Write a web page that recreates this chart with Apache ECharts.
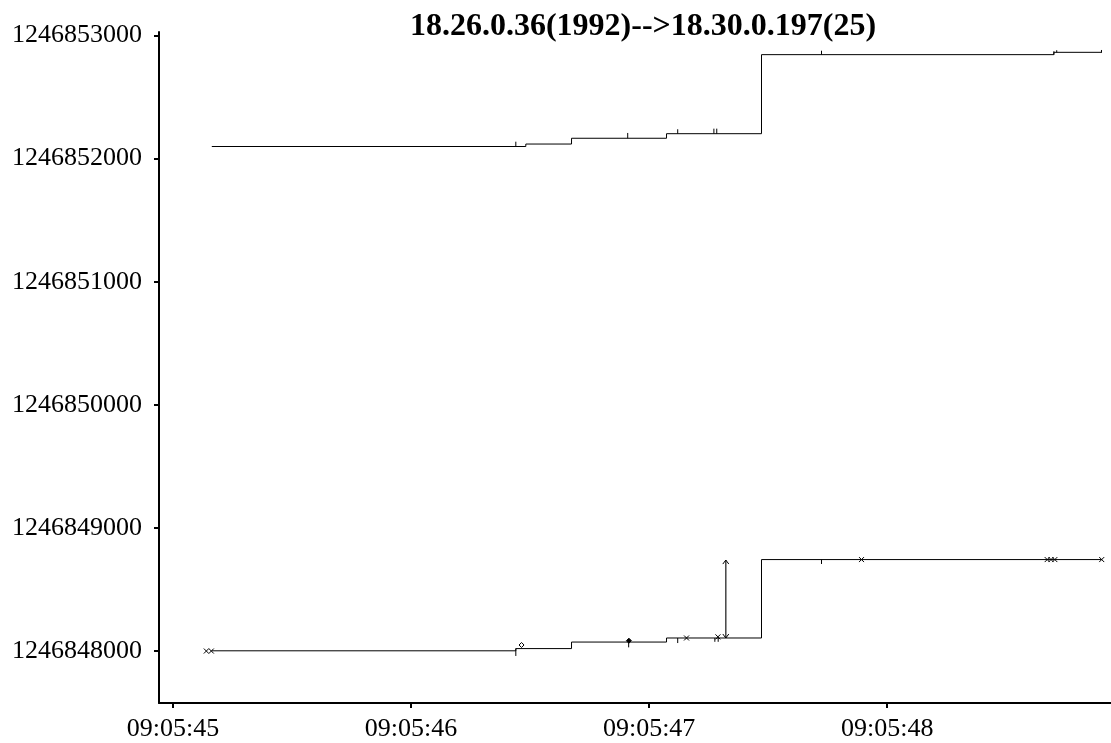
<!DOCTYPE html>
<html>
<head>
<meta charset="utf-8">
<script src="https://cdn.jsdelivr.net/npm/echarts@6/dist/echarts.min.js"></script>
<style>html,body{margin:0;padding:0;background:#fff}#c{width:1111px;height:743px}</style>
</head>
<body>
<div id="c"></div>
<script>
// time in seconds after 09:05:45
const timeTicks = [0, 1, 2, 3];
const timeLabels = ['09:05:45', '09:05:46', '09:05:47', '09:05:48'];
const seqTicks = [1246848000, 1246849000, 1246850000, 1246851000, 1246852000, 1246853000];

// ack line (step)
const ackSteps = [
  [0.163, 1246848002], [1.440, 1246848020], [1.674, 1246848073],
  [2.073, 1246848106], [2.472, 1246848743], [3.902, 1246848743]
];
// window line (step)
const winSteps = [
  [0.163, 1246852098], [1.482, 1246852118], [1.674, 1246852165],
  [2.073, 1246852202], [2.472, 1246852844], [3.700, 1246852863], [3.902, 1246852863]
];
// small vertical ticks on the window line [t, from, to]
const winTicks = [
  [1.440, 1246852098, 1246852137], [1.910, 1246852165, 1246852208],
  [2.120, 1246852202, 1246852238], [2.272, 1246852202, 1246852243],
  [2.284, 1246852202, 1246852243], [2.724, 1246852844, 1246852876],
  [3.700, 1246852844, 1246852872], [3.712, 1246852863, 1246852880],
  [3.900, 1246852863, 1246852882]
];
// small vertical ticks on the ack line [t, from, to]
const ackTicks = [
  [1.440, 1246848020, 1246847960], [1.914, 1246848073, 1246848030],
  [2.120, 1246848106, 1246848065], [2.276, 1246848106, 1246848075],
  [2.290, 1246848106, 1246848075], [2.724, 1246848743, 1246848707]
];
// cross markers [t, seq]
const crossMarks = [
  [0.140, 1246848000], [0.161, 1246848000], [2.157, 1246848106],
  [2.289, 1246848115], [2.892, 1246848743], [3.672, 1246848743],
  [3.688, 1246848743], [3.704, 1246848743], [3.901, 1246848743]
];
// diamond markers [t, seq, filled]
const diamondMarks = [[1.464, 1246848049, 0], [1.915, 1246848084, 1]];
// data segments [t, from, to]
const segments = [[2.322, 1246848106, 1246848739]];

const chart = echarts.init(document.getElementById('c'));
const black = '#000';

function vline(params, api) {
  const a = api.coord([api.value(0), api.value(1)]);
  const b = api.coord([api.value(0), api.value(2)]);
  return { type: 'line', shape: { x1: a[0], y1: a[1], x2: b[0], y2: b[1] }, style: { stroke: black, lineWidth: 1 } };
}

chart.setOption({
  animation: false,
  backgroundColor: '#fff',
  title: {
    text: '18.26.0.36(1992)-->18.30.0.197(25)',
    left: 638, top: 6, textAlign: 'center',
    textStyle: { fontFamily: 'Liberation Serif', fontWeight: 'bold', fontSize: 32, color: '#000' }
  },
  grid: { left: 159, right: 0, top: 32, bottom: 40 },
  xAxis: {
    type: 'value', min: -0.0588, max: 3.94,
    splitLine: { show: false },
    axisLine: { show: true, onZero: false, lineStyle: { color: black, width: 2 } },
    axisTick: { show: true, length: 5, lineStyle: { color: black, width: 2 }, customValues: timeTicks },
    axisLabel: {
      customValues: timeTicks, margin: 13,
      formatter: v => timeLabels[Math.round(v)],
      fontFamily: 'Liberation Serif', fontSize: 26, color: '#000'
    }
  },
  yAxis: {
    type: 'value', min: 1246847578, max: 1246853028,
    splitLine: { show: false },
    axisLine: { show: true, onZero: false, lineStyle: { color: black, width: 2 } },
    axisTick: { show: true, length: 5, lineStyle: { color: black, width: 2 }, customValues: seqTicks },
    axisLabel: {
      customValues: seqTicks, margin: 17,
      formatter: v => String(v),
      fontFamily: 'Liberation Serif', fontSize: 26, color: '#000'
    }
  },
  series: [
    { type: 'line', step: 'end', data: ackSteps, symbol: 'none', lineStyle: { color: black, width: 1 } },
    { type: 'line', step: 'end', data: winSteps, symbol: 'none', lineStyle: { color: black, width: 1 } },
    { type: 'custom', data: winTicks, renderItem: vline, encode: { x: 0, y: [1, 2] } },
    { type: 'custom', data: ackTicks, renderItem: vline, encode: { x: 0, y: [1, 2] } },
    {
      type: 'custom', data: crossMarks, encode: { x: 0, y: 1 },
      renderItem: (params, api) => {
        const p = api.coord([api.value(0), api.value(1)]);
        const s = 2.5;
        return { type: 'group', children: [
          { type: 'line', shape: { x1: p[0] - s, y1: p[1] - s, x2: p[0] + s, y2: p[1] + s }, style: { stroke: black, lineWidth: 1 } },
          { type: 'line', shape: { x1: p[0] - s, y1: p[1] + s, x2: p[0] + s, y2: p[1] - s }, style: { stroke: black, lineWidth: 1 } }
        ] };
      }
    },
    {
      type: 'custom', data: diamondMarks, encode: { x: 0, y: 1 },
      renderItem: (params, api) => {
        const p = api.coord([api.value(0), api.value(1)]);
        const s = 2.5;
        return { type: 'polygon', shape: { points: [[p[0], p[1] - s], [p[0] + s, p[1]], [p[0], p[1] + s], [p[0] - s, p[1]]] },
          style: { stroke: black, lineWidth: 1, fill: api.value(2) ? black : '#fff' } };
      }
    },
    {
      type: 'custom', data: segments, encode: { x: 0, y: [1, 2] },
      renderItem: (params, api) => {
        const a = api.coord([api.value(0), api.value(1)]);
        const b = api.coord([api.value(0), api.value(2)]);
        const w = 3, h = 4;
        return { type: 'group', children: [
          { type: 'line', shape: { x1: a[0], y1: a[1], x2: b[0], y2: b[1] }, style: { stroke: '#444', lineWidth: 1.5 } },
          { type: 'polyline', shape: { points: [[b[0] - w, b[1] + h], [b[0], b[1]], [b[0] + w, b[1] + h]] }, style: { stroke: black, lineWidth: 1, fill: null } },
          { type: 'polyline', shape: { points: [[a[0] - w, a[1] - h], [a[0], a[1]], [a[0] + w, a[1] - h]] }, style: { stroke: black, lineWidth: 1, fill: null } }
        ] };
      }
    }
  ]
});
</script>
</body>
</html>
